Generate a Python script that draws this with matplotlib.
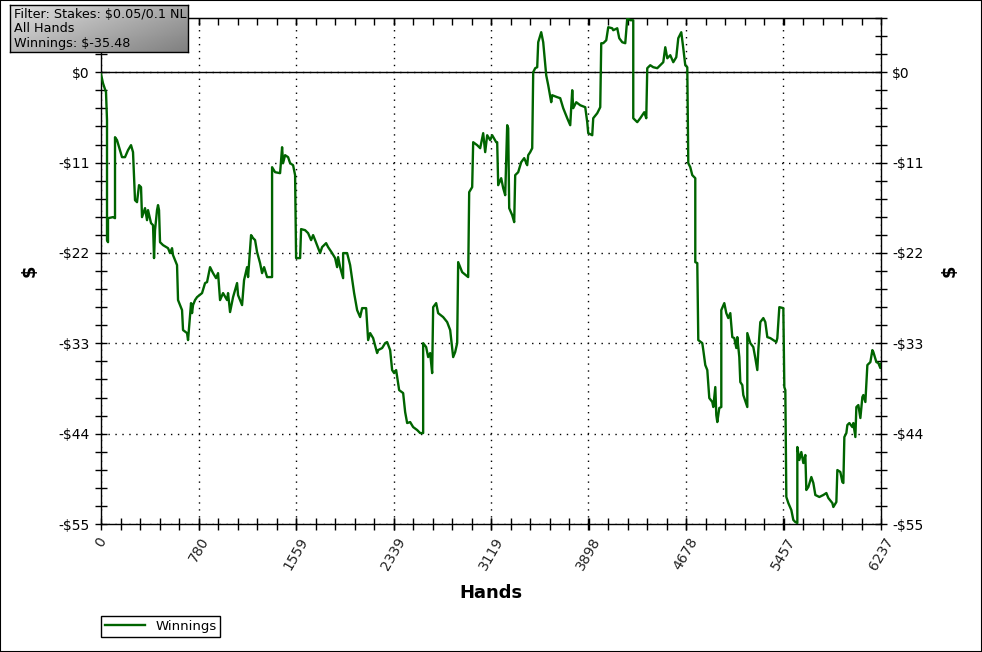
import numpy as np
import matplotlib
matplotlib.use('Agg')
import matplotlib.pyplot as plt
from matplotlib.ticker import FixedLocator, MultipleLocator
from matplotlib.patches import Rectangle

# Cumulative winnings (hand number, dollars)
hands = [0, 16, 40, 48, 48, 56, 56, 96, 112, 112, 128, 168, 192, 216, 240, 256, 272, 288, 304, 320,
         328, 352, 368, 376, 400, 416, 424, 432, 448, 456, 464, 472, 496, 536, 552, 568, 576, 608, 616, 648,
         656, 688, 696, 720, 728, 736, 752, 768, 808, 832, 848, 872, 896, 920, 936, 952, 976, 1008, 1016, 1032,
         1048, 1056, 1088, 1096, 1128, 1144, 1168, 1176, 1200, 1216, 1232, 1248, 1272, 1288, 1304, 1328, 1368, 1368, 1392, 1432,
         1448, 1456, 1472, 1496, 1512, 1536, 1552, 1560, 1592, 1600, 1632, 1656, 1680, 1696, 1712, 1752, 1768, 1800, 1816, 1848,
         1872, 1888, 1896, 1912, 1936, 1936, 1968, 1992, 2024, 2048, 2072, 2088, 2120, 2136, 2152, 2176, 2208, 2216, 2248, 2272,
         2288, 2312, 2328, 2344, 2360, 2384, 2416, 2432, 2448, 2472, 2496, 2528, 2552, 2576, 2576, 2600, 2616, 2632, 2648, 2656,
         2680, 2696, 2736, 2768, 2792, 2816, 2832, 2848, 2856, 2888, 2936, 2944, 2968, 2976, 3008, 3032, 3056, 3072, 3088, 3112,
         3128, 3160, 3168, 3176, 3200, 3216, 3232, 3248, 3256, 3264, 3288, 3304, 3312, 3336, 3360, 3384, 3408, 3416, 3432, 3448,
         3456, 3472, 3488, 3496, 3520, 3536, 3560, 3576, 3600, 3608, 3648, 3672, 3696, 3728, 3752, 3768, 3776, 3800, 3832, 3872,
         3888, 3896, 3928, 3936, 3968, 3992, 4000, 4016, 4040, 4056, 4088, 4096, 4128, 4144, 4168, 4192, 4208, 4232, 4256, 4256,
         4288, 4312, 4328, 4344, 4360, 4368, 4392, 4416, 4448, 4472, 4496, 4512, 4528, 4552, 4576, 4600, 4616, 4640, 4656, 4672,
         4688, 4696, 4712, 4728, 4752, 4752, 4768, 4776, 4808, 4816, 4832, 4848, 4864, 4888, 4896, 4912, 4920, 4928, 4944, 4960,
         4960, 4984, 5000, 5016, 5032, 5048, 5064, 5080, 5088, 5104, 5112, 5128, 5136, 5168, 5168, 5192, 5216, 5232, 5248, 5256,
         5272, 5296, 5312, 5328, 5352, 5376, 5400, 5408, 5424, 5456, 5464, 5472, 5480, 5496, 5520, 5536, 5552, 5568, 5568, 5584,
         5600, 5616, 5632, 5640, 5656, 5680, 5696, 5712, 5744, 5776, 5800, 5816, 5848, 5856, 5880, 5888, 5912, 5928, 5936, 5944,
         5960, 5968, 5984, 6008, 6016, 6032, 6040, 6056, 6072, 6088, 6096, 6112, 6128, 6152, 6168, 6176, 6200, 6216, 6232, 6237]

winnings = [-0.24, -1.34, -2.43, -5.84, -20.44, -20.69, -17.77, -17.64, -17.77, -7.91, -8.27, -10.34, -10.34, -9.49, -8.88, -9.73, -15.58, -15.82, -13.75, -13.99,
            -17.64, -16.55, -18.01, -16.79, -18.37, -18.62, -22.63, -19.23, -16.79, -16.18, -16.79, -20.69, -21.05, -21.42, -22.02, -21.42, -22.27, -23.48, -27.74, -28.96,
            -31.39, -31.76, -32.61, -28.11, -29.33, -28.35, -27.74, -27.38, -26.89, -25.67, -25.55, -23.73, -24.46, -25.07, -24.46, -27.74, -26.89, -27.74, -26.89, -29.20,
            -27.99, -27.38, -25.67, -27.14, -28.35, -25.31, -23.73, -24.94, -19.83, -20.20, -20.44, -21.90, -23.24, -24.46, -23.73, -24.94, -24.94, -11.56, -12.17, -12.29,
            -9.13, -11.07, -10.10, -10.34, -11.07, -11.32, -12.53, -22.63, -22.63, -19.10, -19.23, -19.59, -20.44, -19.83, -20.44, -22.02, -21.29, -20.81, -21.29, -22.02,
            -22.63, -23.73, -22.51, -23.73, -25.07, -22.02, -22.02, -23.48, -26.89, -28.96, -29.81, -28.72, -28.72, -32.61, -31.76, -32.37, -34.19, -33.83, -33.58, -32.98,
            -32.85, -33.83, -36.26, -36.63, -36.26, -38.70, -39.06, -41.37, -42.71, -42.59, -43.20, -43.56, -43.93, -43.93, -32.98, -33.46, -34.68, -34.19, -36.63, -28.60,
            -28.11, -29.33, -29.81, -30.42, -31.39, -34.68, -34.07, -32.98, -23.12, -24.34, -24.94, -14.60, -13.99, -8.52, -8.88, -9.25, -7.42, -9.73, -7.67, -8.27,
            -7.67, -8.52, -8.52, -13.75, -12.90, -14.11, -14.97, -6.45, -6.81, -16.55, -17.40, -18.25, -12.53, -12.17, -10.95, -10.46, -11.32, -10.10, -9.73, -9.25,
            0.00, 0.49, 0.61, 3.65, 4.87, 3.65, -0.37, -1.58, -3.65, -2.80, -3.04, -3.16, -4.38, -5.60, -6.45, -2.19, -4.38, -3.65, -4.02, -4.26,
            -6.08, -7.42, -7.67, -5.60, -4.99, -4.26, 3.53, 3.53, 3.89, 5.48, 5.35, 5.11, 5.35, 4.14, 3.65, 3.53, 6.57, 6.33, 6.33, -5.60,
            -6.08, -5.60, -5.23, -4.87, -5.60, 0.49, 0.85, 0.61, 0.49, 0.85, 1.22, 3.04, 1.70, 2.07, 1.22, 1.83, 4.14, 4.87, 2.92, 0.85,
            0.61, -11.07, -11.56, -12.53, -12.90, -23.12, -23.24, -32.61, -32.98, -33.83, -35.65, -36.26, -39.67, -40.15, -40.76, -38.33, -41.74, -42.59, -40.88, -40.76,
            -28.96, -28.11, -29.33, -29.93, -29.33, -32.25, -32.37, -33.58, -32.25, -34.68, -37.72, -38.09, -39.30, -40.76, -31.76, -32.98, -33.46, -34.80, -36.26, -33.83,
            -30.42, -29.93, -30.42, -32.25, -32.37, -32.61, -32.85, -32.37, -28.60, -28.72, -38.33, -38.70, -51.71, -52.45, -53.30, -54.51, -54.76, -54.88, -45.63, -47.21,
            -46.24, -47.58, -46.60, -50.86, -50.50, -49.28, -50.01, -51.47, -51.71, -51.47, -51.23, -51.84, -52.45, -52.93, -52.32, -48.43, -48.67, -49.89, -50.01, -44.41,
            -43.93, -42.95, -42.71, -43.20, -42.71, -44.41, -40.76, -40.52, -42.10, -39.55, -39.30, -40.15, -35.65, -35.29, -33.83, -34.07, -35.29, -35.41, -36.02, -35.48]

x_ticks = [0, 780, 1559, 2339, 3119, 3898, 4678, 5457, 6237]
y_ticks = [0, -11, -22, -33, -44, -55]
y_labels = ['$0', '-$11', '-$22', '-$33', '-$44', '-$55']
info_lines = ['Filter: Stakes: $0.05/0.1 NL', 'All Hands', 'Winnings: $-35.48']

fig = plt.figure(figsize=(9.82, 6.52), dpi=100)
ax = fig.add_axes([101 / 982, 1 - 524 / 652, 780 / 982, 506 / 652])

ax.plot(hands, winnings, color='#006400', lw=1.7, label='Winnings', zorder=3)
ax.axhline(0, color='black', lw=1, zorder=2)

ax.set_xlim(0, 6237)
ax.set_ylim(-55, 6.6)

x_minor = np.arange(0, 6237, 6237 / 40)
ax.xaxis.set_major_locator(FixedLocator(x_ticks))
ax.xaxis.set_minor_locator(FixedLocator(x_minor))
ax.yaxis.set_major_locator(FixedLocator(y_ticks))
ax.yaxis.set_minor_locator(MultipleLocator(2.2))
ax.set_yticklabels(y_labels)
ax.set_xticklabels([str(t) for t in x_ticks], rotation=60, ha='center', va='top')

ax.tick_params(axis='both', which='both', direction='inout', length=9, width=1,
               labelsize=10, colors='black')
ax.tick_params(axis='x', which='both', top=False)
ax.tick_params(axis='y', which='both', right=True, labelright=True)
for lab in ax.get_xticklabels():
    lab.set_color('#222222')

# top axis: short inward ticks only
top = ax.secondary_xaxis('top')
top.xaxis.set_major_locator(FixedLocator(x_ticks))
top.xaxis.set_minor_locator(FixedLocator(x_minor))
top.tick_params(which='both', direction='in', length=5, width=1, labeltop=False)
top.set_xticklabels([])

ax.grid(True, which='major', color='black', linestyle=(0, (1, 4)), lw=1)
for s in ax.spines.values():
    s.set_linewidth(1)

ax.set_xlabel('Hands', fontsize=13, fontweight='bold', labelpad=8)
fig.text(30 / 982, 1 - 271 / 652, '$', fontsize=13, fontweight='bold', rotation=90, ha='center', va='center')
fig.text(950 / 982, 1 - 271 / 652, '$', fontsize=13, fontweight='bold', rotation=90, ha='center', va='center')

# info box with grey gradient
bx = fig.add_axes([10 / 982, 1 - 52 / 652, 178 / 982, 47 / 652])
gx, gy = np.meshgrid(np.linspace(0, 1, 200), np.linspace(0, 1, 50))
grad = 0.88 - 0.38 * (0.6 * gx + 0.4 * gy)
bx.imshow(grad, cmap='gray', vmin=0, vmax=1, aspect='auto', extent=[0, 1, 0, 1])
bx.set_xticks([])
bx.set_yticks([])
for s in bx.spines.values():
    s.set_color('black')
    s.set_linewidth(1)
for i, t in enumerate(info_lines):
    bx.text(0.02, 0.79 - i * 0.30, t, fontsize=9.2, va='center', ha='left', transform=bx.transAxes)

fig.legend(loc='lower left', bbox_to_anchor=(101 / 982, 1 - 637 / 652), fontsize=9.5,
           frameon=True, fancybox=False, edgecolor='black', framealpha=1,
           handlelength=3, borderpad=0.3, borderaxespad=0)

fig.patches.append(Rectangle((0, 0), 1, 1, transform=fig.transFigure, fill=False,
                             edgecolor='black', lw=1.5))

fig.savefig('out.png', dpi=100)
